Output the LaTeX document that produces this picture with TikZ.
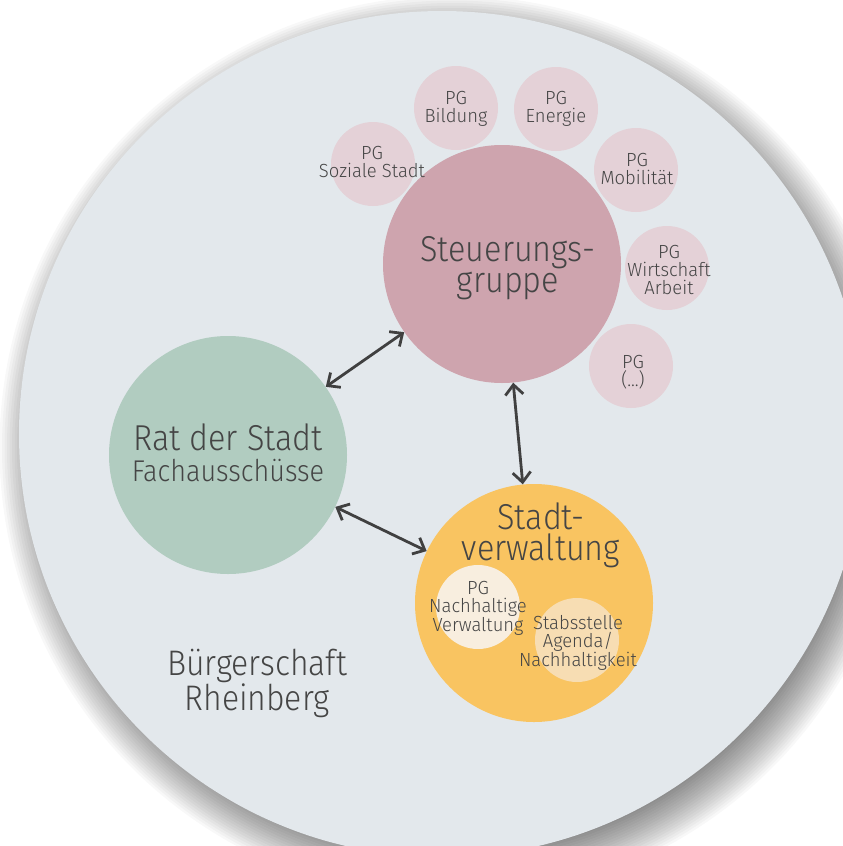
\documentclass[tikz,border=0pt]{standalone}
\usepackage{fontspec}
\setmainfont{Fira Sans Light}[FakeStretch=0.9]
\newfontfamily\pgfont{Fira Sans Light}[FakeStretch=0.97]
\usetikzlibrary{arrows.meta}
\definecolor{citygray}{HTML}{E3E8EC}
\definecolor{steuerpink}{HTML}{CEA4AE}
\definecolor{pgpink}{HTML}{E4D1D7}
\definecolor{ratgreen}{HTML}{B1CCC0}
\definecolor{stadtorange}{HTML}{F9C461}
\definecolor{pgcream}{HTML}{F8EEDF}
\definecolor{stabsbeige}{HTML}{F7DDB3}
\definecolor{txtgray}{HTML}{454545}
\definecolor{arrowgray}{HTML}{404040}
\tikzset{
	bubble/.style     = {circle, inner sep=0pt, minimum size=238pt},
	pgbubble/.style   = {circle, inner sep=0pt, minimum size=84pt, fill=pgpink},
	biglabel/.style   = {align=center, text=txtgray, inner sep=0pt,
		font=\fontsize{36}{31}\selectfont},
	smalllabel/.style = {align=center, text=txtgray, inner sep=0pt,
		font=\pgfont\fontsize{19}{18}\selectfont},
	link/.style       = {draw=arrowgray, line width=2.8pt,
		{Straight Barb[length=10pt,width=18pt]}-{Straight Barb[length=10pt,width=18pt]}}
}

\begin{document}
\begin{tikzpicture}[x=1pt, y=-1pt]
	\clip (0,0) rectangle (843,846);
	\fill[white] (0,0) rectangle (843,846);
	% soft shadow of the city
	\foreach \r in {0,...,19}
		\fill[black, opacity=0.026] (452,448) circle ({405+\r*2.5});
	\node at (442,434)[circle, inner sep=0pt, minimum size=846pt, fill=citygray] (city) {};

	% project groups round the steering group
	\node at (373,164)[pgbubble] (pgsozial) {};
	\node at (456,108)[pgbubble] (pgbildung) {};
	\node at (556,109)[pgbubble] (pgenergie) {};
	\node at (636,170)[pgbubble] (pgmobil) {};
	\node at (667,268)[pgbubble] (pgwirtschaft) {};
	\node at (631,366)[pgbubble] (pgmore) {};

	\node at (502,264)[bubble, fill=steuerpink] (steuer) {};
	\node at (228,455)[bubble, fill=ratgreen] (rat) {};
	\node at (534,603)[bubble, fill=stadtorange] (stadt) {};
	\node at (478,607)[pgbubble, fill=pgcream] (pgnach) {};
	\node at (577,640)[pgbubble, fill=stabsbeige] (stabs) {};

	% texts
	\node at (372,162)[smalllabel] (tsozial) {PG\\Soziale Stadt};
	\node at (456,109)[smalllabel] (tbildung) {PG\\Bildung};
	\node at (556,109)[smalllabel] (tenergie) {PG\\Energie};
	\node at (637,169)[smalllabel] (tmobil) {PG\\Mobilität};
	\node at (669,270)[smalllabel] (twirtschaft) {PG\\Wirtschaft\\Arbeit};
	\node at (633,372)[smalllabel] (tmore) {PG\\(...)};
	\node at (478,608)[smalllabel] (tnach) {PG\\Nachhaltige\\Verwaltung};
	\node at (578,643)[smalllabel] (tstabs) {Stabsstelle\\Agenda/\\Nachhaltigkeit};

	\node at (508,268)[biglabel] (tsteuer) {Steuerungs-\\gruppe};
	\node at (228,453)[biglabel] (trat) {Rat der Stadt\\{\fontsize{30}{28}\selectfont Fachausschüsse}};
	\node at (541,535)[biglabel] (tstadt) {Stadt-\\verwaltung};
	\node at (257,683)[biglabel, font=\fontsize{35.5}{28}\selectfont] (tcity) {Bürgerschaft\\Rheinberg};

	% links
	\draw[link] (rat) -- (steuer);
	\draw[link] (steuer) -- (stadt);
	\draw[link] (rat) -- (stadt);
\end{tikzpicture}
\end{document}
